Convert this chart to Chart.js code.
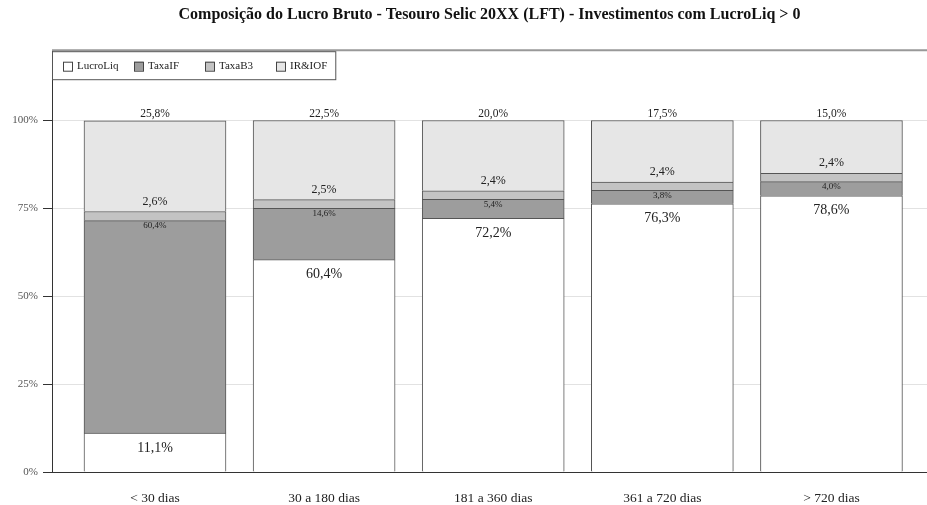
<!DOCTYPE html>
<html>
<head>
<meta charset="utf-8">
<script src="https://cdn.jsdelivr.net/npm/chart.js@4"></script>
<style>
  html, body { margin: 0; padding: 0; background: #fff; }
  #wrap { width: 927px; height: 505px; }
</style>
</head>
<body>
<div id="wrap"><canvas id="chart"></canvas></div>
<script>
const categories = ['< 30 dias', '30 a 180 dias', '181 a 360 dias', '361 a 720 dias', '> 720 dias'];
const lucroLiq = [11.1, 60.4, 72.2, 76.3, 78.6];
const taxaIF   = [60.4, 14.6, 5.4, 3.8, 4.0];
const taxaB3   = [2.6, 2.5, 2.4, 2.4, 2.4];
const irIof    = [25.8, 22.5, 20.0, 17.5, 15.0];
const yTicks   = [0, 25, 50, 75, 100];

const serif = '"Liberation Serif", "DejaVu Serif", serif';
const fmt = v => v.toFixed(1).replace('.', ',') + '%';

function toPoints(arr) {
    return arr.map((v, i) => ({x: i, y: v}));
}

// where each series puts its value label, relative to the segment top
const labelStyle = [
    {size: 14, dy: 15},    // LucroLiq, inside
    {size: 9, dy: 5},      // TaxaIF, small, inside
    {size: 12, dy: -10},   // TaxaB3, above
    {size: 11.5, dy: -7}   // IR&IOF, above bar
];

const segLabels = {
    id: 'segLabels',
    afterDatasetsDraw(chart) {
        const ctx = chart.ctx;
        ctx.save();
        ctx.textAlign = 'center';
        ctx.textBaseline = 'middle';
        ctx.fillStyle = '#222';
        chart.data.datasets.forEach((ds, di) => {
            const meta = chart.getDatasetMeta(di);
            const st = labelStyle[di];
            ctx.font = st.size + 'px ' + serif;
            meta.data.forEach((bar, i) => {
                ctx.fillText(fmt(ds.data[i].y), bar.x, bar.y + st.dy);
            });
        });
        ctx.restore();
    },
    afterDraw(chart) {
        const ctx = chart.ctx;
        const area = chart.chartArea;
        ctx.save();
        // top frame line
        ctx.strokeStyle = '#999';
        ctx.lineWidth = 2;
        ctx.beginPath();
        ctx.moveTo(area.left, area.top);
        ctx.lineTo(area.right, area.top);
        ctx.stroke();

        // legend box inside the plot, top-left
        const top = area.top + 1;
        let x = area.left + 11;
        const cy = top + 15;
        ctx.font = '11px ' + serif;
        ctx.textBaseline = 'middle';
        ctx.textAlign = 'left';
        ctx.lineWidth = 1;
        let right = x;
        chart.data.datasets.forEach((ds, i) => {
            const bx = area.left + 11 + i * 71;
            ctx.fillStyle = ds.backgroundColor;
            ctx.fillRect(bx, cy - 4.5, 9, 9);
            ctx.strokeStyle = '#444';
            ctx.strokeRect(bx + 0.5, cy - 4.5 + 0.5, 9, 9);
            ctx.fillStyle = '#222';
            ctx.fillText(ds.label, bx + 14, cy);
            right = bx + 14 + ctx.measureText(ds.label).width;
        });
        ctx.strokeStyle = '#555';
        ctx.strokeRect(area.left + 0.5, top + 0.5, right + 8 - area.left, 28);
        ctx.restore();
    }
};

const border = '#555';
new Chart(document.getElementById('chart'), {
    type: 'bar',
    data: {
        datasets: [
            {label: 'LucroLiq', data: toPoints(lucroLiq), backgroundColor: '#ffffff', borderColor: border, borderWidth: 1, barThickness: 142},
            {label: 'TaxaIF', data: toPoints(taxaIF), backgroundColor: '#9d9d9d', borderColor: border, borderWidth: 1, barThickness: 142},
            {label: 'TaxaB3', data: toPoints(taxaB3), backgroundColor: '#c3c3c3', borderColor: border, borderWidth: 1, barThickness: 142},
            {label: 'IR&IOF', data: toPoints(irIof), backgroundColor: '#e6e6e6', borderColor: border, borderWidth: 1, barThickness: 142}
        ]
    },
    options: {
        responsive: true,
        maintainAspectRatio: false,
        animation: false,
        layout: {padding: 0},
        plugins: {
            title: {
                display: true,
                fullSize: false,
                text: 'Composição do Lucro Bruto - Tesouro Selic 20XX (LFT) - Investimentos com LucroLiq > 0',
                font: {family: serif, size: 16, weight: 'bold'},
                color: '#111',
                padding: {top: 5, bottom: 26}
            },
            legend: {display: false},
            tooltip: {enabled: false}
        },
        scales: {
            x: {
                type: 'linear',
                stacked: true,
                offset: false,
                min: -0.609,
                max: 4.565,
                grid: {display: false, offset: false},
                border: {display: true, color: '#333', width: 1},
                afterBuildTicks: scale => { scale.ticks = categories.map((c, i) => ({value: i})); },
                afterFit: scale => { scale.height = 33; },
                ticks: {
                    padding: 10,
                    color: '#222',
                    font: {family: serif, size: 13.5},
                    maxRotation: 0,
                    autoSkip: false,
                    callback: v => categories[v]
                }
            },
            y: {
                stacked: true,
                min: 0,
                max: 120,
                afterBuildTicks: scale => { scale.ticks = yTicks.map(v => ({value: v})); },
                afterFit: scale => { scale.width = 52; },
                grid: {color: '#e2e2e2', tickColor: '#333', tickLength: 9},
                border: {display: true, color: '#333', width: 1},
                ticks: {
                    padding: 5,
                    color: '#555',
                    font: {family: serif, size: 11},
                    callback: v => v + '%'
                }
            }
        }
    },
    plugins: [segLabels]
});
</script>
</body>
</html>
